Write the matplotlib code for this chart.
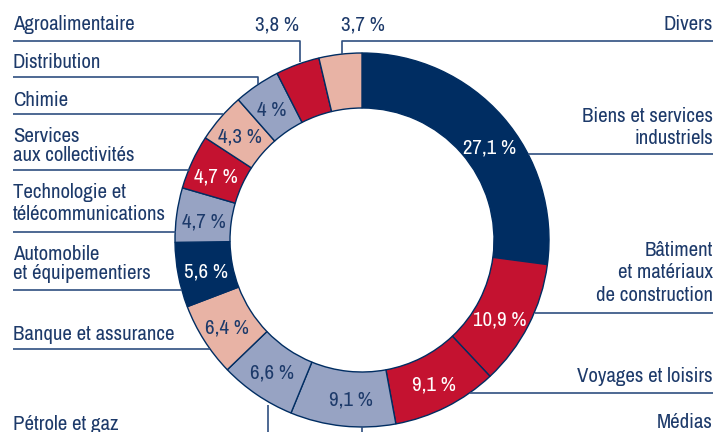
import matplotlib
matplotlib.use('Agg')
import matplotlib.pyplot as plt

plt.rcParams['font.family'] = ['Archivo Narrow', 'DejaVu Sans']

# secteurs, dans l'ordre horaire depuis midi
sectors = ['Biens et services\nindustriels', 'Bâtiment\net matériaux\nde construction',
           'Voyages et loisirs', 'Médias', 'Pétrole et gaz', 'Banque et assurance',
           'Automobile\net équipementiers', 'Technologie et\ntélécommunications',
           'Services\naux collectivités', 'Chimie', 'Distribution', 'Agroalimentaire', 'Divers']
shares = [27.1, 10.9, 9.1, 9.1, 6.6, 6.4, 5.6, 4.7, 4.7, 4.3, 4.0, 3.8, 3.7]
pct_labels = ['27,1 %', '10,9 %', '9,1 %', '9,1 %', '6,6 %', '6,4 %', '5,6 %',
              '4,7 %', '4,7 %', '4,3 %', '4 %', '3,8 %', '3,7 %']

NAVY = '#002d62'
RED = '#c41230'
PINK = '#e8b3a5'
GREY = '#97a3c3'
TXT = '#1d3a6a'
LINE = '#2f4f80'
colors = [NAVY, RED, RED, GREY, GREY, PINK, NAVY, GREY, RED, PINK, GREY, RED, PINK]

# layout (pixels)
cx, cy, R, W = 362, 240, 187, 55
pct_pos = [(490, 148), (500, 320), (434, 385), (351, 400), (272, 373), (227, 328),
           (206, 272), (204, 222), (216, 177), (240, 137), (272, 110), (277, 25), (363, 25)]
# name label: x, y, ha, linespacing
name_pos = [(713, 128, 'right', 1.2), (713, 273, 'right', 1.22), (713, 377, 'right', 1.1),
            (713, 423, 'right', 1.1), (13, 424, 'left', 1.1), (13, 335, 'left', 1.1),
            (13, 264, 'left', 1.05), (13, 204, 'left', 1.2), (13, 146, 'left', 1.05),
            (13, 100, 'left', 1.1), (13, 62, 'left', 1.1), (13, 25, 'left', 1.1),
            (713, 25, 'right', 1.1)]
leaders = [
    [(528, 154), (713, 154)],
    [(535, 313), (713, 313)],
    [(470, 393), (713, 393)],
    [(362, 427), (362, 440)],
    [(268, 405), (268, 440)],
    [(13, 349), (210, 349)],
    [(13, 290), (182, 290)],
    [(13, 232), (176, 232)],
    [(13, 170), (190, 170)],
    [(13, 114), (223, 114)],
    [(13, 77), (258, 77), (258, 84)],
    [(13, 41), (300, 41), (300, 62)],
    [(342, 54), (342, 41), (713, 41)],
]

fig = plt.figure(figsize=(7.16, 4.32), dpi=100)
ax = fig.add_axes([0, 0, 1, 1])
ax.pie(shares, colors=colors, center=(cx, cy), radius=R, startangle=270, counterclock=True,
       wedgeprops=dict(width=W, edgecolor=NAVY, linewidth=1.0))
ax.set_xlim(0, 716)
ax.set_ylim(432, 0)
ax.set_aspect('equal')
ax.axis('off')

for pts in leaders:
    xs = [p[0] for p in pts]
    ys = [p[1] for p in pts]
    ax.plot(xs, ys, color=LINE, lw=1.2, solid_capstyle='butt')

for lab, (x, y), c in zip(pct_labels, pct_pos, colors):
    tc = 'white' if c in (NAVY, RED) else TXT
    if lab in ('3,8 %', '3,7 %'):
        tc = TXT
    ax.text(x, y, lab, color=tc, fontsize=15, ha='center', va='center')

for name, (x, y, ha, ls) in zip(sectors, name_pos):
    ax.text(x, y, name, color=TXT, fontsize=15, ha=ha, va='center',
            multialignment=ha, linespacing=ls)

fig.savefig('out.png', dpi=100)
